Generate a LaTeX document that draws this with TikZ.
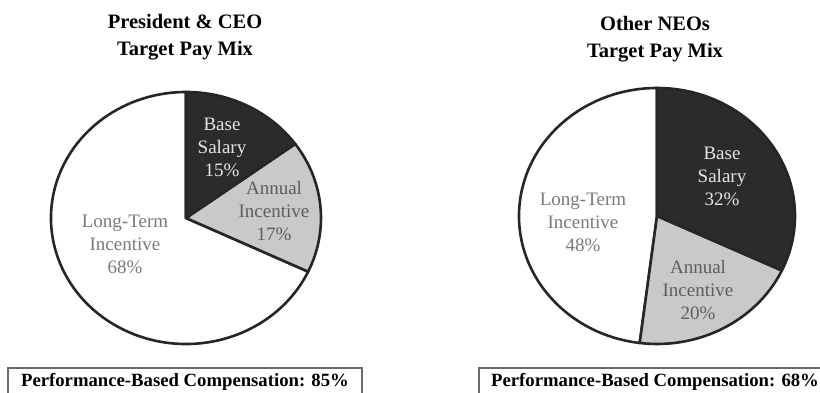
\documentclass[tikz,border=0pt]{standalone}
\usepackage{fontspec}
\setmainfont{Liberation Serif}
\definecolor{darkslice}{HTML}{2B2B2B}
\definecolor{grayslice}{HTML}{C9C9C9}
\definecolor{outline}{HTML}{262626}
\definecolor{txtdark}{HTML}{E4E4E4}
\definecolor{txtgray}{HTML}{5E5E5E}
\definecolor{txtwhite}{HTML}{7A7A7A}
\definecolor{boxline}{HTML}{6A6A6A}
\tikzset{
  title/.style={font=\fontsize{20.5}{26.5}\selectfont\bfseries, align=center, text=black, inner sep=0pt},
  lbl/.style={font=\fontsize{19}{23}\selectfont, align=center, inner sep=0pt},
  slice/.style={draw=outline, line width=2.6pt, line join=round},
  pbox/.style={draw=boxline, line width=1.6pt},
  ptext/.style={font=\fontsize{18.7}{20}\selectfont\bfseries, inner sep=0pt, text=black},
}
\begin{document}
\begin{tikzpicture}[x=1pt,y=1pt]
\useasboundingbox (0,0) rectangle (820,393);
\fill[white] (0,0) rectangle (820,393);
% ---------- left pie ----------
\coordinate (lc) at (186,175);
\def\lrx{135}\def\lry{126}
\filldraw[slice, fill=white] (lc) -- ([shift={(lc)}]-25.2:\lrx pt and \lry pt) arc[start angle=-25.2, end angle=-270, x radius=\lrx, y radius=\lry] -- cycle;
\filldraw[slice, fill=grayslice] (lc) -- ([shift={(lc)}]36:\lrx pt and \lry pt) arc[start angle=36, end angle=-25.2, x radius=\lrx, y radius=\lry] -- cycle;
\filldraw[slice, fill=darkslice] (lc) -- ([shift={(lc)}]90:\lrx pt and \lry pt) arc[start angle=90, end angle=36, x radius=\lrx, y radius=\lry] -- cycle;
% ---------- right pie ----------
\coordinate (rc) at (657,177);
\def\rrx{138}\def\rry{128}
\filldraw[slice, fill=white] (rc) -- ([shift={(rc)}]-97.2:\rrx pt and \rry pt) arc[start angle=-97.2, end angle=-270, x radius=\rrx, y radius=\rry] -- cycle;
\filldraw[slice, fill=grayslice] (rc) -- ([shift={(rc)}]-25.2:\rrx pt and \rry pt) arc[start angle=-25.2, end angle=-97.2, x radius=\rrx, y radius=\rry] -- cycle;
\filldraw[slice, fill=darkslice] (rc) -- ([shift={(rc)}]90:\rrx pt and \rry pt) arc[start angle=90, end angle=-25.2, x radius=\rrx, y radius=\rry] -- cycle;
% ---------- titles ----------
\node[title] (ltitle) at (185,356) {President \& CEO\\Target Pay Mix};
\node[title] (rtitle) at (655,354) {Other NEOs\\Target Pay Mix};
% ---------- labels left ----------
\node[lbl, text=txtdark] (lbase) at (222,246) {Base\\Salary\\15\%};
\node[lbl, text=txtgray] (lann) at (274,182) {Annual\\Incentive\\17\%};
\node[lbl, text=txtwhite] (llti) at (125,149) {Long-Term\\Incentive\\68\%};
% ---------- labels right ----------
\node[lbl, text=txtdark] (rbase) at (722,217) {Base\\Salary\\32\%};
\node[lbl, text=txtwhite] (rlti) at (583,171) {Long-Term\\Incentive\\48\%};
\node[lbl, text=txtgray] (rann) at (698,103) {Annual\\Incentive\\20\%};
% ---------- boxes ----------
\draw[pbox] (8,-10) rectangle (362,25);
\draw[pbox] (479,-10) rectangle (835,25);
\node[ptext] (lperf) at (185,11) {Performance-Based Compensation: 85\%};
\node[ptext, anchor=west] (rperf) at (491,11) {Performance-Based Compensation: 68\%};
\end{tikzpicture}
\end{document}
